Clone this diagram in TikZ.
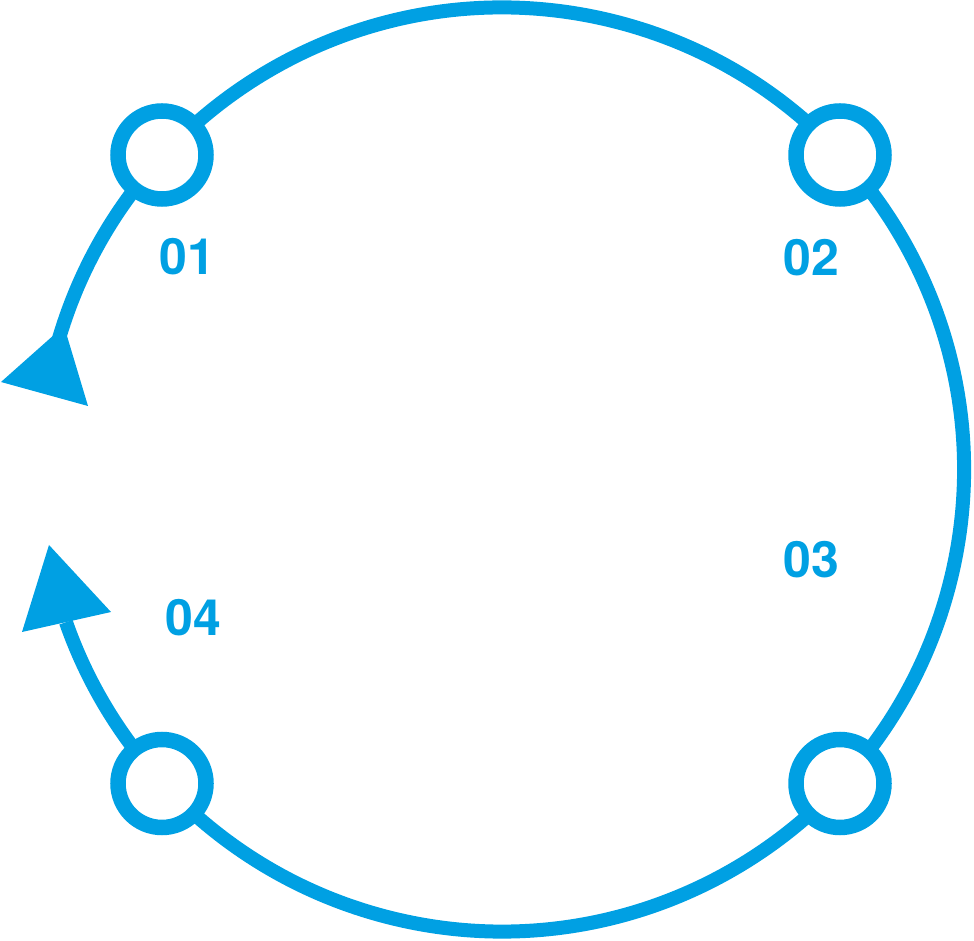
\documentclass[tikz,border=0pt]{standalone}
\usepackage{fontspec}
\setmainfont{TeX Gyre Heros}
\definecolor{cyc}{RGB}{0,160,227}
\begin{document}
\begin{tikzpicture}[x=1pt,y=1pt,
  ring/.style={circle,draw=cyc,line width=15.5pt,fill=white,minimum size=88pt,inner sep=0pt},
  lbl/.style={text=cyc,font=\fontsize{50}{50}\selectfont\bfseries,inner sep=0pt},
  bigarc/.style={draw=cyc,line width=14pt}]
\useasboundingbox (0,0) rectangle (974,940);
\coordinate (c) at (502,470.5);
% main arc
\draw[bigarc] (c) ++(163.7:462) arc[start angle=163.7, end angle=-160.7, radius=462];
% arrowheads
\coordinate (t1) at (1,558);
\coordinate (t2) at (88,534);
\coordinate (t3) at (64,614);
\fill[cyc] (t1) -- (t2) -- (t3) -- cycle;
\coordinate (b1) at (49,395);
\coordinate (b2) at (111,328);
\coordinate (b3) at (22,308);
\fill[cyc] (b1) -- (b2) -- (b3) -- cycle;
% nodes
\node[ring] (n1) at (162,785) {};
\node[ring] (n2) at (840,785) {};
\node[ring] (n3) at (840,156.5) {};
\node[ring] (n4) at (162,156.5) {};
% labels
\node[lbl] (l1) at (187,683) {01};
\node[lbl] (l2) at (811,682) {02};
\node[lbl] (l3) at (811,380) {03};
\node[lbl] (l4) at (193,322) {04};
\end{tikzpicture}
\end{document}
